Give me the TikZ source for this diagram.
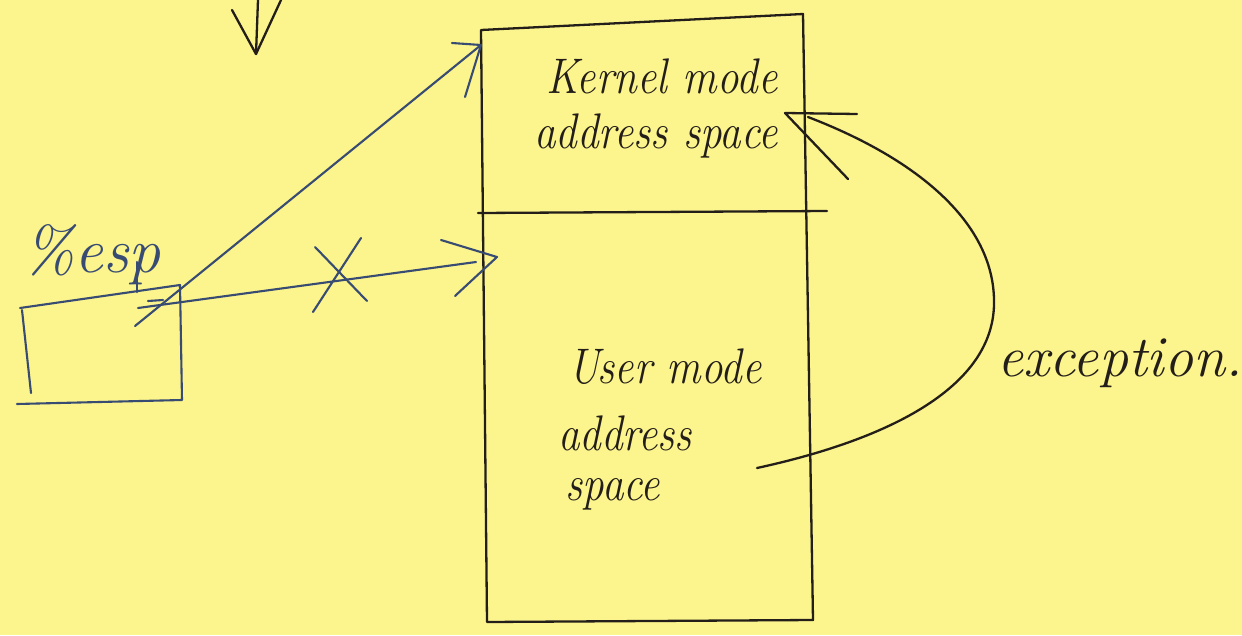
\documentclass[tikz,border=0pt]{standalone}
\definecolor{paper}{RGB}{252,244,140}
\definecolor{ink}{RGB}{35,30,25}
\definecolor{blueink}{RGB}{55,75,115}
\newcommand\hwtext[1]{\scalebox{0.86}[1]{#1}}
\begin{document}
\begin{tikzpicture}[x=1pt,y=-1pt,
  inkline/.style={draw=ink,line width=2.3pt,line cap=round,line join=round},
  blueline/.style={draw=blueink,line width=2.1pt,line cap=round,line join=round},
  hw/.style={font=\itshape\fontsize{50}{54}\selectfont,text=ink,inner sep=0pt,anchor=base}]
\fill[paper] (0,0) rectangle (1242,635);
\useasboundingbox (0,0) rectangle (1242,635);

% top down arrow
\coordinate (dtip) at (256,54);
\draw[inkline] (258,0) -- (dtip);
\draw[inkline] (232,10) -- (dtip) -- (281,0);

% big box
\coordinate (tl) at (481,30);
\coordinate (tr) at (803,14);
\coordinate (br) at (813,620);
\coordinate (bl) at (487,622);
\draw[inkline] (tl) -- (tr) -- (br) -- (bl) -- cycle;
\coordinate (dl) at (478,213);
\coordinate (dr) at (827,211);
\draw[inkline] (dl) -- (dr);

% texts
\node[hw] (kern1) at (662,93) {\hwtext{Kernel mode}};
\node[hw] (kern2) at (656,148) {\hwtext{address space}};
\node[hw] (user1) at (665,383) {\hwtext{User mode}};
\node[hw] (user2) at (625,450) {\hwtext{address}};
\node[hw] (user3) at (613,500) {\hwtext{space}};
\node[hw,font=\itshape\fontsize{58}{64}\selectfont] (exc) at (1120,376) {exception.};
\node[hw,font=\itshape\fontsize{64}{70}\selectfont,text=blueink] (esp) at (92,272) {\%esp};

% small box (blue)
\coordinate (stl) at (20,308);
\coordinate (str) at (180,285);
\coordinate (sbr) at (182,400);
\coordinate (sbl) at (17,404);
\draw[blueline] (stl) -- (str) -- (sbr) -- (sbl);
\draw[blueline] (22,310) -- (31,393);
\coordinate (espstem) at (137,262);
\draw[blueline] (espstem) -- (137,292);

% arrow to kernel space
\coordinate (a1s) at (135,326);
\coordinate (a1t) at (481,45);
\draw[blueline] (a1s) -- (a1t);
\draw[blueline] (452,43) -- (a1t) -- (465,97);

% arrow to user space (crossed)
\coordinate (a2s) at (138,308);
\coordinate (a2t) at (497,257);
\draw[blueline] (a2s) -- (476,262);
\draw[blueline] (441,240) -- (a2t) -- (455,296);
\draw[blueline] (148,301) -- (163,300);
% cross
\draw[blueline] (315,247) -- (367,301);
\draw[blueline] (361,238) -- (313,312);

% exception curve
\coordinate (es) at (757,468);
\coordinate (et) at (785,113);
\draw[inkline] (es) .. controls (895,438) and (992,385) .. (994,305)
  .. controls (996,225) and (920,160) .. (808,117);
\draw[inkline] (857,114) -- (et) -- (848,179);
\end{tikzpicture}
\end{document}
